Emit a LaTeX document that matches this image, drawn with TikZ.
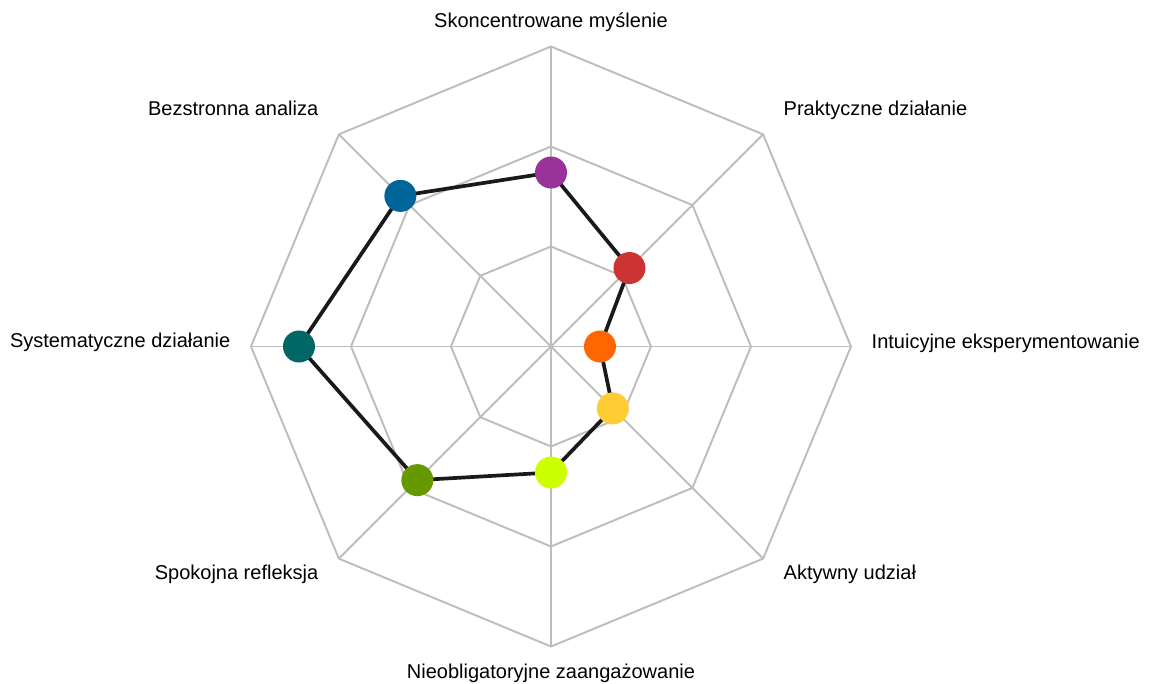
\documentclass[tikz,border=0pt]{standalone}
\usepackage{fontspec}
\setmainfont{Liberation Sans}
\definecolor{gridc}{HTML}{BDBDBD}
\definecolor{cpurple}{HTML}{993399}
\definecolor{cred}{HTML}{CC3333}
\definecolor{corange}{HTML}{FF6600}
\definecolor{cyellow}{HTML}{FFCC33}
\definecolor{clime}{HTML}{CCFF00}
\definecolor{cgreen}{HTML}{669900}
\definecolor{cteal}{HTML}{006666}
\definecolor{cblue}{HTML}{006699}
\begin{document}
\begin{tikzpicture}[x=0.01cm,y=0.01cm,
  grid/.style={draw=gridc,line width=0.55pt,line join=miter},
  profile/.style={draw=black!90,line width=1.05pt,line join=round},
  dot/.style={circle,minimum size=0.32cm,inner sep=0pt,draw=none},
  lbl/.style={font=\fontsize{5.69}{7}\selectfont,inner sep=0pt,text=black}]
\useasboundingbox (-551,-337.5) rectangle (599,346.5);
% web
\foreach \r in {100,200,300}{
  \draw[grid] (90:\r) -- (45:\r) -- (0:\r) -- (-45:\r) -- (-90:\r) -- (-135:\r) -- (180:\r) -- (135:\r) -- cycle;
}
\foreach \a in {0,45,...,315}{
  \draw[grid] (0,0) -- (\a:300);
}
% data points
\node[dot] (p1) at (90:174) {};
\node[dot] (p2) at (45:111) {};
\node[dot] (p3) at (0:49) {};
\node[dot] (p4) at (-45:87.5) {};
\node[dot] (p5) at (-90:126) {};
\node[dot] (p6) at (-135:189) {};
\node[dot] (p7) at (180:252) {};
\node[dot] (p8) at (135:213) {};
\draw[profile] (p1.center) -- (p2.center) -- (p3.center) -- (p4.center) -- (p5.center) -- (p6.center) -- (p7.center) -- (p8.center) -- cycle;
\foreach \n/\c in {p1/cpurple,p2/cred,p3/corange,p4/cyellow,p5/clime,p6/cgreen,p7/cteal,p8/cblue}{
  \fill[\c] (\n.center) circle (16);
}
% labels
\node[lbl,anchor=base] (l1) at (0,319.5) {Skoncentrowane myślenie};
\node[lbl,anchor=base west] (l2) at (232,231.5) {Praktyczne działanie};
\node[lbl,anchor=base west] (l3) at (320,-1.5) {Intuicyjne eksperymentowanie};
\node[lbl,anchor=base west] (l4) at (232,-232.5) {Aktywny udział};
\node[lbl,anchor=base] (l5) at (0,-331.5) {Nieobligatoryjne zaangażowanie};
\node[lbl,anchor=base east] (l6) at (-232,-232.5) {Spokojna refleksja};
\node[lbl,anchor=base east] (l7) at (-320,-0.5) {Systematyczne działanie};
\node[lbl,anchor=base east] (l8) at (-232,231.5) {Bezstronna analiza};
\end{tikzpicture}
\end{document}
